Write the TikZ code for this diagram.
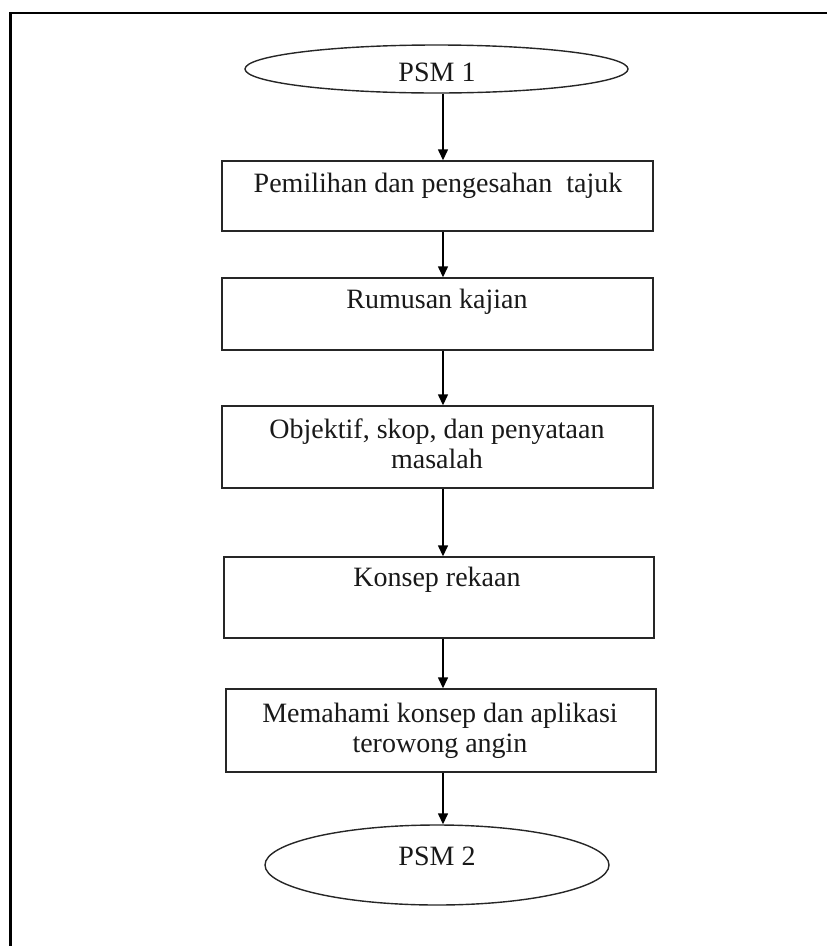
\documentclass[tikz,border=0pt]{standalone}
\usepackage{fontspec}
\setmainfont{Liberation Serif}
\usetikzlibrary{shapes.geometric,arrows.meta}
\begin{document}
\begin{tikzpicture}[x=1pt,y=-1pt,
  boxst/.style={draw=black!85,line width=1.4pt,rectangle,inner sep=0pt},
  ovalst/.style={draw=black!85,line width=1.4pt,ellipse,inner sep=0pt},
  txt/.style={anchor=base,inner sep=0pt,text=black!90,font=\fontsize{28}{32}\selectfont},
  arr/.style={line width=1.4pt,-{Triangle[width=10pt,length=11pt]}},
  frame/.style={line width=2.4pt}]
\useasboundingbox (0,0) rectangle (827,946);
% frame (only top and left edges visible)
\coordinate (fc) at (10.5,13);
\coordinate (fr) at (827,13);
\coordinate (fb) at (10.5,946);
\draw[frame] (fb) -- (fc) -- (fr);
% shapes
\node[ovalst,minimum width=383pt,minimum height=48pt] (e1) at (436.5,69) {};
\node[boxst,minimum width=431pt,minimum height=70pt] (b1) at (437.5,196) {};
\node[boxst,minimum width=431pt,minimum height=72pt] (b2) at (437.5,314) {};
\node[boxst,minimum width=431pt,minimum height=82pt] (b3) at (437.5,447) {};
\node[boxst,minimum width=430pt,minimum height=81pt] (b4) at (439,597.5) {};
\node[boxst,minimum width=430pt,minimum height=83pt] (b5) at (441,730.5) {};
\node[ovalst,minimum width=344pt,minimum height=80pt] (e2) at (437,865) {};
% texts
\node[txt] (t0) at (437,81) {PSM 1};
\node[txt] (t1) at (438,192) {Pemilihan dan pengesahan\ \ tajuk};
\node[txt] (t2) at (437,308) {Rumusan kajian};
\node[txt] (t3a) at (437,438) {Objektif, skop, dan penyataan};
\node[txt] (t3b) at (437,468) {masalah};
\node[txt] (t4) at (437,586) {Konsep rekaan};
\node[txt] (t5a) at (440,722) {Memahami konsep dan aplikasi};
\node[txt] (t5b) at (440,752) {terowong angin};
\node[txt] (t6) at (437,865) {PSM 2};
% connectors
\coordinate (ax) at (443,0);
\draw[arr] (e1.south -| ax) -- (b1.north -| ax);
\draw[arr] (b1.south -| ax) -- (b2.north -| ax);
\draw[arr] (b2.south -| ax) -- (b3.north -| ax);
\draw[arr] (b3.south -| ax) -- (b4.north -| ax);
\draw[arr] (b4.south -| ax) -- (b5.north -| ax);
\draw[arr] (b5.south -| ax) -- (e2.north -| ax);
\end{tikzpicture}
\end{document}
